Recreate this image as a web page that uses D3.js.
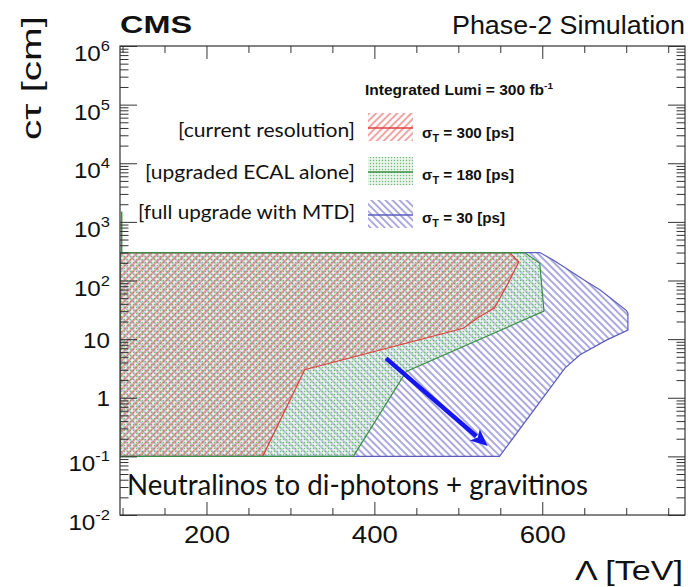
<!DOCTYPE html>
<html>
<head>
<meta charset="utf-8">
<script src="https://cdnjs.cloudflare.com/ajax/libs/d3/7.8.5/d3.min.js"></script>
<style>
body { margin: 0; background: #fff; }
svg { display: block; }
text { font-family: "Liberation Sans", Arial, sans-serif; fill: #111; }
</style>
</head>
<body>
<svg id="chart" width="688" height="587"></svg>
<script>
// excluded regions: lambda in TeV, c*tau in cm
var blueLambda = [97, 597, 613, 653, 669, 700, 702, 702, 677, 645, 627, 549, 97];
var blueCtau   = [300, 300, 224, 95, 69, 31, 27.6, 14.3, 9.7, 5.4, 3.2, 0.1, 0.1];

var greenLambda = [97, 579, 597, 602, 438, 375, 97];
var greenCtau   = [300, 300, 196, 30, 2.8, 0.1, 0.1];

var redLambda = [97, 561, 572, 558, 543, 525, 506, 317, 267, 97];
var redCtau   = [300, 300, 207, 83, 34, 24, 15.3, 3, 0.1, 0.1];

// small green stub on the left edge
var stubLambda = [99, 99];
var stubCtau = [300, 1500];

// the arrow towards higher lambda / shorter lifetime
var arrowLambda = [414, 535];
var arrowCtau = [4.7, 0.15];

// axis ticks and labels
var xMajorTicks = [200, 400, 600];
var xMinorTicks = [100, 150, 250, 300, 350, 450, 500, 550, 650, 700, 750];
var yMajorTicks = [1e-2, 1e-1, 1, 10, 1e2, 1e3, 1e4, 1e5, 1e6];
var yTickBase = ["10", "10", "1", "10", "10", "10", "10", "10", "10"];
var yTickSup  = ["-2", "-1", "", "", "2", "3", "4", "5", "6"];

// legend
var legendNames = ["[current resolution]", "[upgraded ECAL alone]", "[full upgrade with MTD]"];
var legendSigma = ["300", "180", "30"];
var legendWidths = [177, 210, 217];
var legendFills = ["url(#redHatch)", "url(#greenDots)", "url(#blueHatch)"];
var legendLines = ["#e0403f", "#3a8f46", "#5c5cc0"];

var svg = d3.select("#chart");

var x = d3.scaleLinear().domain([97, 770]).range([120, 685]);
var y = d3.scaleLog().domain([1e-2, 1e6]).range([515, 46]);

// fill patterns, ROOT style hatches
var defs = svg.append("defs");
function hatch(id, angle, color){
    var p = defs.append("pattern")
        .attr("id", id)
        .attr("patternUnits", "userSpaceOnUse")
        .attr("width", 5).attr("height", 5)
        .attr("patternTransform", "rotate(" + angle + ")");
    p.append("line")
        .attr("x1", 1).attr("y1", -1).attr("x2", 1).attr("y2", 7)
        .attr("stroke", color).attr("stroke-width", 1.1);
}
hatch("blueHatch", -45, "#6464c8");
hatch("redHatch", 45, "#e65a5a");

// green is a fine dot pattern over a light see-through tint
var dots = defs.append("pattern")
    .attr("id", "greenDots")
    .attr("patternUnits", "userSpaceOnUse")
    .attr("width", 3).attr("height", 3);
dots.append("rect").attr("width", 3).attr("height", 3).attr("fill", "#cfe9d2").attr("fill-opacity", 0.45);
dots.append("circle").attr("cx", 1.5).attr("cy", 1.5).attr("r", 0.75).attr("fill", "#6fb97a");

defs.append("clipPath").attr("id", "plotClip")
  .append("rect").attr("x", 120).attr("y", 46).attr("width", 565).attr("height", 469);

function toPoints(lams, cts){
    return lams.map(function(l, i){ return [x(l), y(cts[i])]; });
}

var line = d3.line();
var plot = svg.append("g").attr("clip-path", "url(#plotClip)");

var regions = [
    {pts: toPoints(blueLambda, blueCtau), fill: "url(#blueHatch)", stroke: "#5c5cc0"},
    {pts: toPoints(greenLambda, greenCtau), fill: "url(#greenDots)", stroke: "#3a8f46"},
    {pts: toPoints(redLambda, redCtau), fill: "url(#redHatch)", stroke: "#e0403f"}
];

// fills first, then the outlines (green last, it sits on top at the edges)
regions.forEach(function(r){
    plot.append("path").attr("d", line(r.pts) + "Z").attr("fill", r.fill);
});
[0, 2, 1].forEach(function(i){
    var r = regions[i];
    plot.append("path").attr("d", line(r.pts) + "Z")
        .attr("fill", "none").attr("stroke", r.stroke).attr("stroke-width", 1.2);
});
plot.append("path").attr("d", line(toPoints(stubLambda, stubCtau)))
    .attr("stroke", "#3a8f46").attr("stroke-width", 1.5);

// arrow
var a = toPoints(arrowLambda, arrowCtau);
var dx = a[1][0] - a[0][0], dy = a[1][1] - a[0][1];
var len = Math.sqrt(dx * dx + dy * dy);
var ux = dx / len, uy = dy / len;
var headLen = 17, headHalf = 7.5;
var bx = a[1][0] - ux * headLen, by = a[1][1] - uy * headLen;
svg.append("line")
    .attr("x1", a[0][0]).attr("y1", a[0][1])
    .attr("x2", bx + ux * 2).attr("y2", by + uy * 2)
    .attr("stroke", "#1616f2").attr("stroke-width", 4.5);
svg.append("path")
    .attr("d", "M" + a[1][0] + "," + a[1][1] +
               "L" + (bx - uy * headHalf) + "," + (by + ux * headHalf) +
               "L" + (bx + ux * 4) + "," + (by + uy * 4) +
               "L" + (bx + uy * headHalf) + "," + (by - ux * headHalf) + "Z")
    .attr("fill", "#1616f2");

// axes, ticks pointing inwards on all four sides
function addAxis(axis, tx, ty){
    var g = svg.append("g").attr("transform", "translate(" + tx + "," + ty + ")").call(axis);
    g.select(".domain").remove();
    g.selectAll("line").attr("stroke", "#333");
    return g;
}
var yMinorTicks = y.ticks().filter(function(v){ return yMajorTicks.indexOf(v) < 0; });

var xb = addAxis(d3.axisBottom(x).tickValues(xMajorTicks).tickSize(-13).tickPadding(12), 0, 515);
xb.selectAll("text")
    .attr("transform", "scale(1.2,1)")
    .style("font-size", "23px")
    .style("font-family", "'Liberation Sans', Arial, sans-serif")
    .attr("fill", "#111");
addAxis(d3.axisBottom(x).tickValues(xMinorTicks).tickSize(-7).tickFormat(""), 0, 515);
addAxis(d3.axisTop(x).tickValues(xMajorTicks).tickSize(-13).tickFormat(""), 0, 46);
addAxis(d3.axisTop(x).tickValues(xMinorTicks).tickSize(-7).tickFormat(""), 0, 46);
addAxis(d3.axisLeft(y).tickValues(yMajorTicks).tickSize(-17).tickFormat(""), 120, 0);
addAxis(d3.axisLeft(y).tickValues(yMinorTicks).tickSize(-8.5).tickFormat(""), 120, 0);
addAxis(d3.axisRight(y).tickValues(yMajorTicks).tickSize(-17).tickFormat(""), 685, 0);
addAxis(d3.axisRight(y).tickValues(yMinorTicks).tickSize(-8.5).tickFormat(""), 685, 0);

svg.append("rect")
    .attr("x", 120).attr("y", 46).attr("width", 565).attr("height", 469)
    .attr("fill", "none").attr("stroke", "#333").attr("stroke-width", 1.2);

// y tick labels, 10 with a superscript exponent
yMajorTicks.forEach(function(v, i){
    var sup = yTickSup[i];
    var t = svg.append("text")
        .attr("transform", "translate(110," + (y(v) + (sup ? 15 : 8.5)) + ") scale(1.1,1)")
        .attr("text-anchor", "end")
        .style("font-size", "22px");
    t.append("tspan").text(yTickBase[i]);
    if(sup){
        t.append("tspan").attr("dy", -10).style("font-size", "15px").text(sup);
    }
});

// titles
svg.append("text").attr("x", 120).attr("y", 33)
    .attr("textLength", 72).attr("lengthAdjust", "spacingAndGlyphs")
    .style("font-size", "24px").style("font-weight", "bold").text("CMS");
svg.append("text").attr("x", 685).attr("y", 34).attr("text-anchor", "end")
    .attr("textLength", 233).attr("lengthAdjust", "spacingAndGlyphs")
    .style("font-size", "25px").text("Phase-2 Simulation");
svg.append("text").attr("transform", "translate(41,140) rotate(-90)")
    .attr("textLength", 124).attr("lengthAdjust", "spacingAndGlyphs")
    .style("font-size", "27px").text("cτ [cm]");
svg.append("text").attr("x", 683).attr("y", 580).attr("text-anchor", "end")
    .attr("textLength", 108).attr("lengthAdjust", "spacingAndGlyphs")
    .style("font-size", "27px").text("Λ [TeV]");

svg.append("text").attr("x", 127).attr("y", 495)
    .attr("textLength", 461).attr("lengthAdjust", "spacingAndGlyphs")
    .style("font-family", "Lato, 'Open Sans', sans-serif")
    .style("font-size", "28px").text("Neutralinos to di-photons + gravitinos");

// legend
var lumi = svg.append("text").attr("x", 365).attr("y", 95)
    .attr("textLength", 188).attr("lengthAdjust", "spacingAndGlyphs")
    .style("font-size", "14px").style("font-weight", "bold");
lumi.append("tspan").text("Integrated Lumi = 300 fb");
lumi.append("tspan").attr("dy", -6).style("font-size", "9px").text("-1");

var rowBox = [113, 157, 200];
var rowName = [137, 179, 219];
var rowSigma = [138, 180, 223];
legendNames.forEach(function(name, i){
    svg.append("text").attr("x", 355).attr("y", rowName[i]).attr("text-anchor", "end")
        .attr("textLength", legendWidths[i]).attr("lengthAdjust", "spacingAndGlyphs")
        .style("font-family", "Lato, 'Open Sans', sans-serif")
        .style("font-size", "19px").text(name);
    svg.append("rect").attr("x", 368).attr("y", rowBox[i]).attr("width", 45).attr("height", 28)
        .attr("fill", legendFills[i]);
    svg.append("line").attr("x1", 368).attr("x2", 413)
        .attr("y1", rowBox[i] + 15).attr("y2", rowBox[i] + 15)
        .attr("stroke", legendLines[i]).attr("stroke-width", 1.3);
    var s = svg.append("text").attr("x", 422).attr("y", rowSigma[i])
        .attr("textLength", i == 2 ? 83 : 92).attr("lengthAdjust", "spacingAndGlyphs")
        .style("font-size", "14px").style("font-weight", "bold");
    s.append("tspan").text("σ");
    s.append("tspan").attr("dy", 4).style("font-size", "10px").text("T");
    s.append("tspan").attr("dy", -4).text(" = " + legendSigma[i] + " [ps]");
});
</script>
</body>
</html>
